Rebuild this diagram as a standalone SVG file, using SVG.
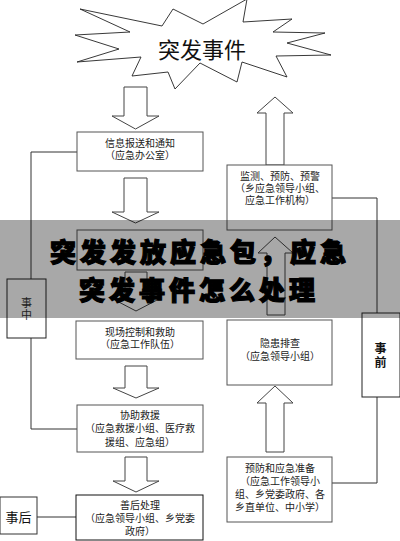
<svg xmlns="http://www.w3.org/2000/svg" width="400" height="541" viewBox="0 0 400 541">
<style>
.box{fill:#fff;stroke:#555;stroke-width:1}
.arr{fill:#fff;stroke:#444;stroke-width:1}
.ln{fill:none;stroke:#333;stroke-width:1}
.t{font-family:"Liberation Sans","Noto Sans CJK SC",sans-serif;font-size:10px;fill:#222;text-anchor:middle}
.side{font-family:"Noto Sans CJK SC",sans-serif;font-size:11px;fill:#333;writing-mode:vertical-rl;text-anchor:start}
.title{font-family:"Noto Sans CJK SC",sans-serif;font-size:26px;font-weight:900;fill:#000;stroke:#000;stroke-width:1.2;letter-spacing:4px;text-anchor:middle}
</style>
<rect width="400" height="541" fill="#fff"/>
<g id="connectors">
<polyline class="ln" points="77,152 31,152 31,279"/>
<polyline class="ln" points="31,338 31,429 77,429"/>
<line class="ln" x1="37" y1="517" x2="76" y2="517"/>
<polyline class="ln" points="332,198 377,198 377,313"/>
<polyline class="ln" points="377,397 377,483 332,483"/>
<polygon class="arr" points="124,87 147,87 147,116 159,116 135.5,129 112,116 124,116"/>
<polygon class="arr" points="124,178 147,178 147,212 159,212 135.5,223 112,212 124,212"/>
<polygon class="arr" points="125,272 147,272 147,299 159,299 136,311 113,299 125,299"/>
<polygon class="arr" points="125,366 147,366 147,388 159,388 136,398 113,388 125,388"/>
<polygon class="arr" points="125,457 147,457 147,481 159,481 136,492 113,481 125,481"/>
<polygon class="arr" points="266,165 284,165 284,113 293,113 275,97 257,113 266,113"/>
<polygon class="arr" points="267,315 285,315 285,253 293,253 275,237 258,253 267,253"/>
<polygon class="arr" points="266,452 284,452 284,403 293,403 275,386 257,403 266,403"/>
</g>
<g id="event">
<polygon fill="#fff" stroke="#222" stroke-width="0.9" points="80,9 162,26 173,9 203,24 247,-1 243,22 292,19 273,32 325,33 287,43 331,55 276,56 287,77 242,62 237,82 200,63 175,89 168,72 132,76 141,57 77,62 119,49 75,35 130,32"/>
<text x="202" y="58" style="font-family:'Noto Sans CJK SC',sans-serif;font-size:22px;fill:#111;text-anchor:middle">突发事件</text>
</g>
<g id="n-info">
<rect class="box" x="77" y="132" width="126" height="39"/>
<text class="t" x="140" y="147">信息报送和通知</text>
<text class="t" x="140" y="159">（应急办公室）</text>
</g>
<g id="n-plan">
<rect class="box" x="77" y="230" width="126" height="40"/>
</g>
<g id="n-site">
<rect class="box" x="76" y="321" width="127" height="38"/>
<text class="t" x="140" y="336">现场控制和救助</text>
<text class="t" x="140" y="348">（应急工作队伍）</text>
</g>
<g id="n-assist">
<rect class="box" x="77" y="405" width="126" height="47"/>
<text class="t" x="140" y="419">协助救援</text>
<text class="t" x="140" y="432">（应急救援小组、医疗救</text>
<text class="t" x="140" y="446">援组、应急组）</text>
</g>
<g id="n-after">
<rect class="box" x="76" y="495" width="127" height="45" style="stroke:#111"/>
<text class="t" x="140" y="509">善后处理</text>
<text class="t" x="140" y="522">（应急领导小组、乡党委</text>
<text class="t" x="140" y="535">政府）</text>
</g>
<g id="n-monitor">
<rect class="box" x="227" y="165" width="105" height="65"/>
<text class="t" x="280" y="180">监测、预防、预警</text>
<text class="t" x="280" y="192">（乡应急领导小组、</text>
<text class="t" x="280" y="204">应急工作机构）</text>
</g>
<g id="n-check">
<rect class="box" x="227" y="320" width="105" height="65"/>
<text class="t" x="280" y="347">隐患排查</text>
<text class="t" x="280" y="360">（应急领导小组）</text>
</g>
<g id="n-prep">
<rect class="box" x="227" y="457" width="105" height="65"/>
<text class="t" x="280" y="472">预防和应急准备</text>
<text class="t" x="280" y="485">（应急工作领导小</text>
<text class="t" x="280" y="498">组、乡党委政府、各</text>
<text class="t" x="280" y="511">乡直单位、中小学）</text>
</g>
<g id="n-during">
<rect class="box" x="7" y="279" width="39" height="59" style="stroke:#222"/>
<text class="side" x="26.5" y="297.5" style="letter-spacing:1px">事中</text>
</g>
<g id="n-before">
<rect class="box" x="362" y="313" width="38" height="84" style="stroke:#222"/>
<text class="side" x="380.5" y="342" style="fill:#111;font-size:12px;letter-spacing:2px;font-weight:bold">事前</text>
</g>
<g id="n-post">
<rect class="box" x="0" y="497" width="37" height="37" style="stroke:#333"/>
<text x="18.5" y="522" style="font-family:'Noto Sans CJK SC',sans-serif;font-size:13px;fill:#111;text-anchor:middle">事后</text>
</g>
<g id="banner">
<rect x="0" y="220" width="400" height="98" fill="#000" fill-opacity="0.34"/>
<text class="title" x="200" y="262">突发发放应急包，应急</text>
<text class="title" x="199" y="300">突发事件怎么处理</text>
</g>
</svg>
